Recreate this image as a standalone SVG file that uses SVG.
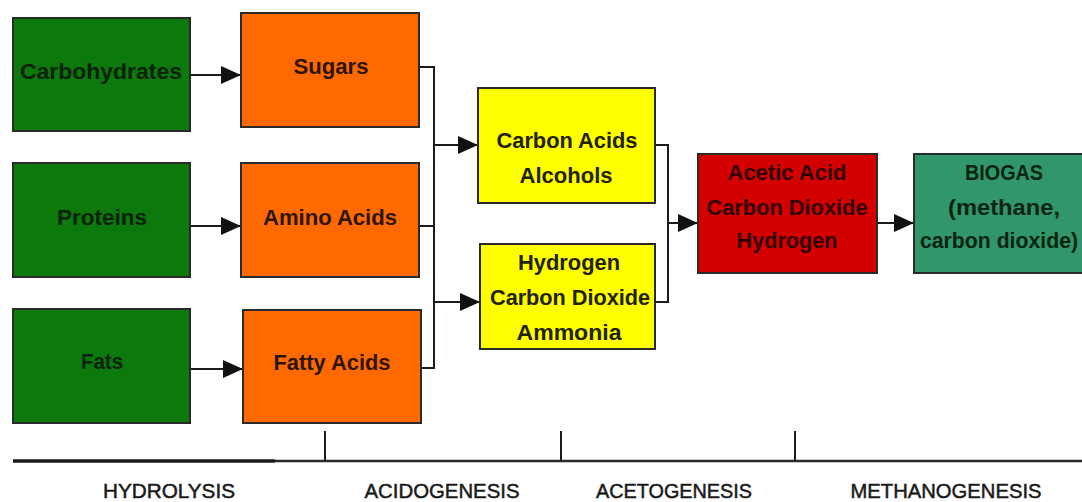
<svg xmlns="http://www.w3.org/2000/svg" width="1082" height="502" viewBox="0 0 1082 502">
<style>
.box{stroke:#2a2a2a;stroke-width:2}
.g{fill:#0b790b}
.o{fill:#ff6a00}
.y{fill:#ffff00}
.r{fill:#d40000}
.b{fill:#31966a}
.t{font-family:"Liberation Sans",Arial,sans-serif;font-weight:bold;font-size:22px;text-anchor:middle}
.tg{fill:#0a220a}
.to{fill:#2e1404}
.ty{fill:#222200}
.tr{fill:#300000}
.tb{fill:#0a2412}
.c{fill:none;stroke:#1a1a1a;stroke-width:2}
.lbl{font-family:"Liberation Sans",Arial,sans-serif;font-size:21px;fill:#1a1a1a;stroke:#1a1a1a;stroke-width:0.5;text-anchor:middle}
</style>
<defs>
<marker id="ah" markerWidth="20" markerHeight="18" refX="20" refY="9" orient="auto" markerUnits="userSpaceOnUse">
<path d="M0,0 L20,9 L0,18 z" fill="#111"/>
</marker>
</defs>
<rect width="1082" height="502" fill="#ffffff"/>

<g id="connectors">
<line class="c" x1="190" y1="75" x2="241" y2="75" marker-end="url(#ah)"/>
<line class="c" x1="190" y1="226" x2="241" y2="226" marker-end="url(#ah)"/>
<line class="c" x1="190" y1="369" x2="243" y2="369" marker-end="url(#ah)"/>
<polyline class="c" points="419,67 434,67 434,368 421,368"/>
<line class="c" x1="419" y1="226" x2="434" y2="226"/>
<line class="c" x1="434" y1="145" x2="478" y2="145" marker-end="url(#ah)"/>
<line class="c" x1="434" y1="302" x2="480" y2="302" marker-end="url(#ah)"/>
<polyline class="c" points="655,145 668,145 668,302 655,302"/>
<line class="c" x1="668" y1="223" x2="698" y2="223" marker-end="url(#ah)"/>
<line class="c" x1="877" y1="223" x2="914" y2="223" marker-end="url(#ah)"/>
</g>

<g id="carbohydrates"><rect class="box g" x="13" y="18" width="177" height="113"/><text class="t tg" x="101" y="79" textLength="162" lengthAdjust="spacingAndGlyphs">Carbohydrates</text></g>
<g id="proteins"><rect class="box g" x="13" y="163" width="177" height="114"/><text class="t tg" x="102" y="225" textLength="90" lengthAdjust="spacingAndGlyphs">Proteins</text></g>
<g id="fats"><rect class="box g" x="13" y="309" width="177" height="114"/><text class="t tg" x="102" y="369" textLength="42" lengthAdjust="spacingAndGlyphs">Fats</text></g>

<g id="sugars"><rect class="box o" x="241" y="13" width="178" height="114"/><text class="t to" x="331" y="74" textLength="75" lengthAdjust="spacingAndGlyphs">Sugars</text></g>
<g id="amino-acids"><rect class="box o" x="241" y="163" width="178" height="114"/><text class="t to" x="330" y="225" textLength="134" lengthAdjust="spacingAndGlyphs">Amino Acids</text></g>
<g id="fatty-acids"><rect class="box o" x="243" y="310" width="178" height="113"/><text class="t to" x="332" y="370" textLength="117" lengthAdjust="spacingAndGlyphs">Fatty Acids</text></g>

<g id="carbon-acids"><rect class="box y" x="478" y="88" width="177" height="115"/><text class="t ty" x="567" y="148" textLength="141" lengthAdjust="spacingAndGlyphs">Carbon Acids</text><text class="t ty" x="566" y="183" textLength="93" lengthAdjust="spacingAndGlyphs">Alcohols</text></g>
<g id="hydrogen"><rect class="box y" x="480" y="244" width="175" height="105"/><text class="t ty" x="569" y="270" textLength="102" lengthAdjust="spacingAndGlyphs">Hydrogen</text><text class="t ty" x="570" y="305" textLength="160" lengthAdjust="spacingAndGlyphs">Carbon Dioxide</text><text class="t ty" x="569" y="340" textLength="105" lengthAdjust="spacingAndGlyphs">Ammonia</text></g>

<g id="acetic-acid"><rect class="box r" x="698" y="154" width="179" height="119"/><text class="t tr" x="787" y="180" textLength="119" lengthAdjust="spacingAndGlyphs">Acetic Acid</text><text class="t tr" x="787" y="215" textLength="161" lengthAdjust="spacingAndGlyphs">Carbon Dioxide</text><text class="t tr" x="787" y="248" textLength="101" lengthAdjust="spacingAndGlyphs">Hydrogen</text></g>

<g id="biogas"><rect class="box b" x="914" y="154" width="180" height="119"/><text class="t tb" x="1004" y="180" textLength="78" lengthAdjust="spacingAndGlyphs">BIOGAS</text><text class="t tb" x="1004" y="215" textLength="112" lengthAdjust="spacingAndGlyphs">(methane,</text><text class="t tb" x="999" y="248" textLength="158" lengthAdjust="spacingAndGlyphs">carbon dioxide)</text></g>

<g id="timeline">
<line x1="13" y1="461" x2="275" y2="461" stroke="#1a1a1a" stroke-width="3.5"/>
<line x1="275" y1="461" x2="1082" y2="461" stroke="#2a2a2a" stroke-width="2.5"/>
<line x1="325" y1="431" x2="325" y2="461" stroke="#1a1a1a" stroke-width="2"/>
<line x1="561" y1="431" x2="561" y2="461" stroke="#1a1a1a" stroke-width="2"/>
<line x1="795" y1="431" x2="795" y2="461" stroke="#1a1a1a" stroke-width="2"/>
<text class="lbl" x="169" y="498" textLength="132" lengthAdjust="spacingAndGlyphs">HYDROLYSIS</text>
<text class="lbl" x="442" y="498" textLength="155" lengthAdjust="spacingAndGlyphs">ACIDOGENESIS</text>
<text class="lbl" x="674" y="498" textLength="156" lengthAdjust="spacingAndGlyphs">ACETOGENESIS</text>
<text class="lbl" x="946" y="498" textLength="191" lengthAdjust="spacingAndGlyphs">METHANOGENESIS</text>
</g>
</svg>
